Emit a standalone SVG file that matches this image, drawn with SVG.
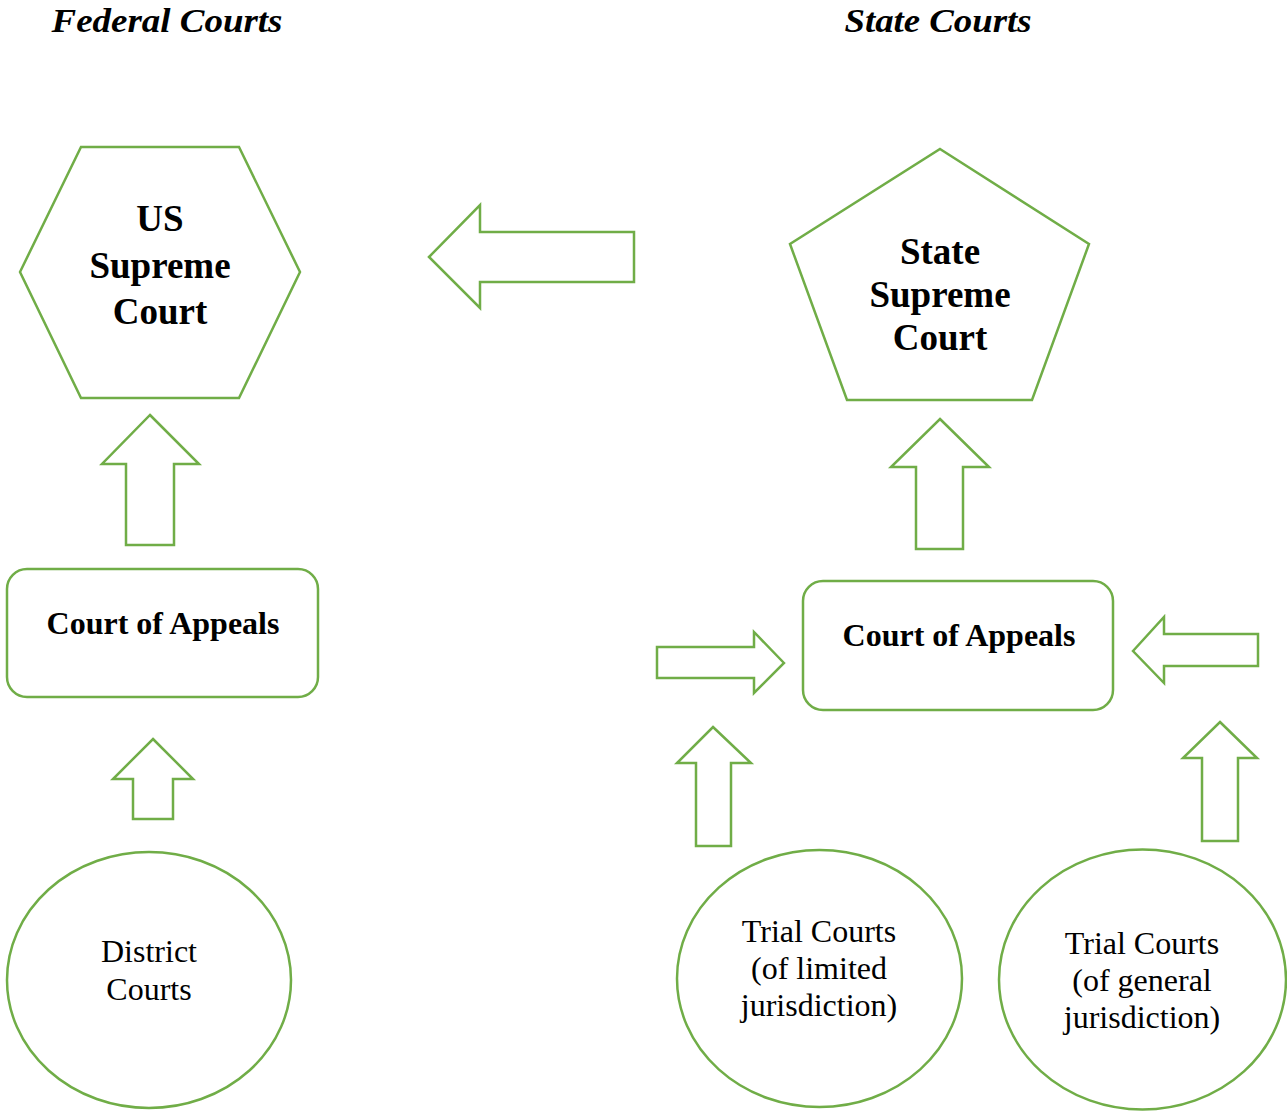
<svg xmlns="http://www.w3.org/2000/svg" width="1287" height="1111" viewBox="0 0 1287 1111">
<style>
.s{fill:#fff;stroke:#70ad47;stroke-width:2.5;stroke-linejoin:miter}
.t{font-family:"Liberation Serif","Times New Roman",serif;fill:#000;text-anchor:middle}
.b{font-weight:bold}
.h{font-weight:bold;font-style:italic;font-size:34px}
.r{font-size:32px}
</style>
<rect width="1287" height="1111" fill="#fff"/>
<text class="t h" x="167" y="32" textLength="231" lengthAdjust="spacingAndGlyphs">Federal Courts</text>
<text class="t h" x="938" y="32" textLength="187" lengthAdjust="spacingAndGlyphs">State Courts</text>
<g id="connectors">
<polygon class="s" points="429,257 480,205 480,232 634,232 634,282 480,282 480,308"/>
<polygon class="s" points="150,415 199,464 174,464 174,545 126,545 126,464 102,464"/>
<polygon class="s" points="153,739 193,779 173,779 173,819 133,819 133,779 113,779"/>
<polygon class="s" points="940,419 989,467 963,467 963,549 916,549 916,467 891,467"/>
<polygon class="s" points="784,663 754,632 754,647 657,647 657,678 754,678 754,693"/>
<polygon class="s" points="1133,651 1164,617 1164,634 1258,634 1258,666 1164,666 1164,683"/>
<polygon class="s" points="713,727 751,763 731,763 731,846 696,846 696,763 677,763"/>
<polygon class="s" points="1220,722 1257,758 1238,758 1238,841 1202,841 1202,758 1183,758"/>
</g>
<g id="us-supreme">
<polygon class="s" points="20,272 81,147 239,147 300,272 239,398 81,398"/>
<text class="t b" font-size="37" x="160" y="231">US</text>
<text class="t b" font-size="37" x="160" y="278">Supreme</text>
<text class="t b" font-size="37" x="160" y="324">Court</text>
</g>
<g id="state-supreme">
<polygon class="s" points="940,149 1089,244 1032,400 847,400 790,244"/>
<text class="t b" font-size="37" x="940" y="264">State</text>
<text class="t b" font-size="37" x="940" y="307">Supreme</text>
<text class="t b" font-size="37" x="940" y="350">Court</text>
</g>
<g id="federal-appeals">
<rect class="s" x="7" y="569" width="311" height="128" rx="20"/>
<text class="t b" font-size="32" x="163" y="634">Court of Appeals</text>
</g>
<g id="state-appeals">
<rect class="s" x="803" y="581" width="310" height="129" rx="20"/>
<text class="t b" font-size="32" x="959" y="646">Court of Appeals</text>
</g>
<g id="district">
<ellipse class="s" cx="149" cy="980" rx="142" ry="128"/>
<text class="t r" x="149" y="962">District</text>
<text class="t r" x="149" y="1000">Courts</text>
</g>
<g id="trial-limited">
<ellipse class="s" cx="819.5" cy="978.5" rx="142.5" ry="128.5"/>
<text class="t r" x="819" y="942">Trial Courts</text>
<text class="t r" x="819" y="979">(of limited</text>
<text class="t r" x="819" y="1016">jurisdiction)</text>
</g>
<g id="trial-general">
<ellipse class="s" cx="1142.5" cy="979.5" rx="143.5" ry="130"/>
<text class="t r" x="1142" y="954">Trial Courts</text>
<text class="t r" x="1142" y="991">(of general</text>
<text class="t r" x="1142" y="1028">jurisdiction)</text>
</g>
</svg>
